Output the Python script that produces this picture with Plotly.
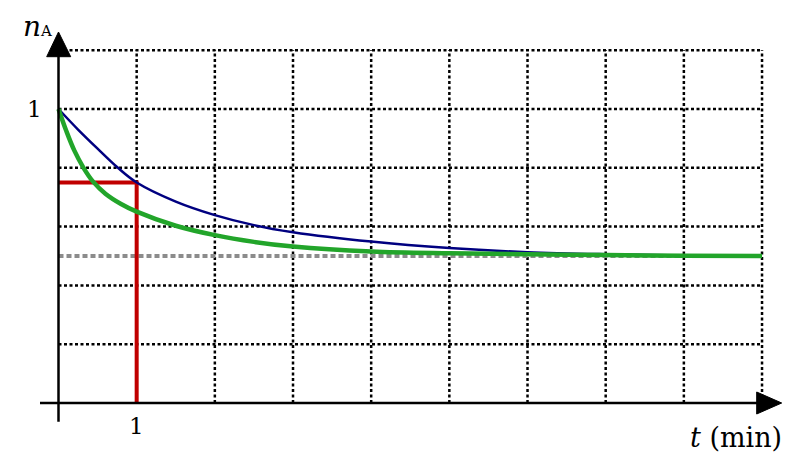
import plotly.graph_objects as go

# ---- data ----
t_blue = [0, 0.25, 0.5, 0.76, 1, 1.5, 2, 2.5, 3, 4, 5, 6, 7, 8, 9]
n_blue = [1, 0.93, 0.865, 0.8, 0.75, 0.685, 0.639, 0.605, 0.581, 0.549, 0.527, 0.513, 0.506, 0.502, 0.501]

t_green = [0, 0.1, 0.2, 0.32, 0.445, 0.6, 0.8, 1, 1.5, 2, 2.5, 3, 4, 5, 6, 7, 8, 9]
n_green = [1, 0.925, 0.86, 0.8, 0.752, 0.712, 0.677, 0.651, 0.603, 0.571, 0.548, 0.532, 0.515, 0.509, 0.506, 0.503, 0.501, 0.5]

t_red = [0, 1, 1]
n_red = [0.75, 0.75, 0]

t_asym = [0, 9]
n_asym = [0.5, 0.5]

x_grid = [1, 2, 3, 4, 5, 6, 7, 8, 9]
y_grid = [0.2, 0.4, 0.6, 0.8, 1.0, 1.2]
x_max, y_max = 9, 1.2
x_tick_labels = ["1"]
y_tick_labels = ["1"]

FONT = "DejaVu Serif"

# page pixel -> data helpers (page has an 8px body offset)
PX_X, PX_Y = 78.17, 294.0
X0 = -(58.5 - 8) / PX_X
Y_TOP = (403 - 8) / PX_Y


def px(xp):
    return X0 + (xp - 8) / PX_X


def py(yp):
    return Y_TOP - (yp - 8) / PX_Y


fig = go.Figure()

shapes = []
for xv in x_grid:
    shapes.append(dict(type="line", x0=xv, x1=xv, y0=0, y1=y_max, layer="below",
                       line=dict(color="black", width=2.5, dash="3px,2.5px")))
for yv in y_grid:
    shapes.append(dict(type="line", x0=0, x1=x_max, y0=yv, y1=yv, layer="below",
                       line=dict(color="black", width=2.5, dash="3px,2.5px")))

# axes
shapes.append(dict(type="line", x0=px(40), x1=px(760), y0=0, y1=0,
                   line=dict(color="black", width=2.5)))
shapes.append(dict(type="line", x0=0, x1=0, y0=py(421.7), y1=py(54),
                   line=dict(color="black", width=2.5)))
shapes.append(dict(type="path",
                   path=f"M {px(756.7)},{py(392)} L {px(781.7)},0 L {px(756.7)},{py(414)} Z",
                   fillcolor="black", line=dict(color="black", width=1)))
shapes.append(dict(type="path",
                   path=f"M {px(46.7)},{py(56.7)} L 0,{py(32)} L {px(70.7)},{py(56.7)} Z",
                   fillcolor="black", line=dict(color="black", width=1)))

fig.add_trace(go.Scatter(x=t_asym, y=n_asym, mode="lines",
                         line=dict(color="#8c8c8c", width=4, dash="5px,3px"), hoverinfo="skip"))
fig.add_trace(go.Scatter(x=t_red, y=n_red, mode="lines",
                         line=dict(color="#c00000", width=4), hoverinfo="skip"))
fig.add_trace(go.Scatter(x=t_blue, y=n_blue, mode="lines", line_shape="spline",
                         line=dict(color="#000080", width=2.5), hoverinfo="skip"))
fig.add_trace(go.Scatter(x=t_green, y=n_green, mode="lines", line_shape="spline",
                         line=dict(color="#22a52a", width=4.5), hoverinfo="skip"))

annotations = [
    dict(x=px(37), y=py(8.5), xref="x", yref="y", showarrow=False,
         xanchor="center", yanchor="top", borderpad=0,
         text="<i>n</i><span style='font-size:15px'>A</span>",
         font=dict(family=FONT, size=28, color="black")),
    dict(x=px(34), y=1, xref="x", yref="y", showarrow=False,
         text=y_tick_labels[0], font=dict(family=FONT, size=23, color="black")),
    dict(x=1, y=py(426), xref="x", yref="y", showarrow=False,
         text=x_tick_labels[0], font=dict(family=FONT, size=23, color="black")),
    dict(x=px(736), y=py(437), xref="x", yref="y", showarrow=False,
         text="<i>t</i> (min)", font=dict(family=FONT, size=27, color="black")),
]

fig.update_layout(
    width=792, height=460,
    margin=dict(l=0, r=0, t=0, b=0),
    paper_bgcolor="white", plot_bgcolor="white",
    showlegend=False,
    xaxis=dict(range=[X0, X0 + 792 / PX_X], visible=False, fixedrange=True),
    yaxis=dict(range=[Y_TOP - 460 / PX_Y, Y_TOP], visible=False, fixedrange=True),
    shapes=shapes, annotations=annotations,
)

fig.write_html("out.html")
